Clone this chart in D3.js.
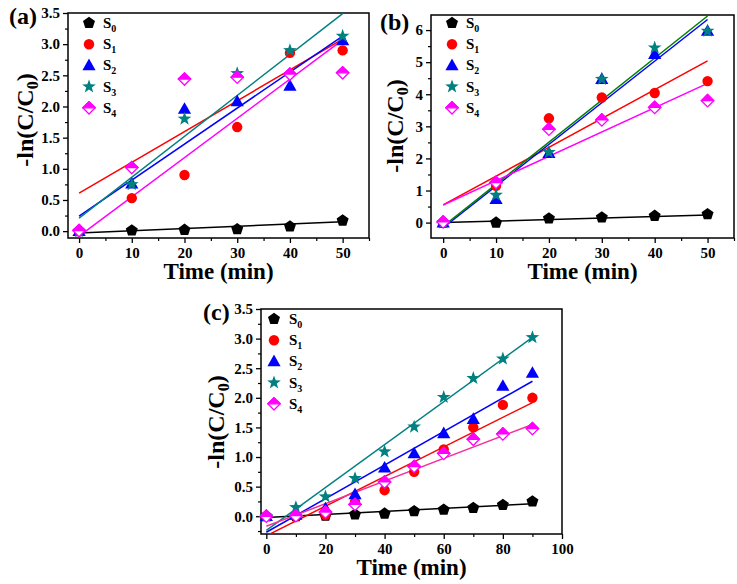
<!DOCTYPE html>
<html><head><meta charset="utf-8">
<script src="https://cdn.jsdelivr.net/npm/d3@7"></script>
<style>
body{margin:0;background:#fff}
svg{display:block}
text{font-family:'Liberation Serif','Times New Roman',serif;font-weight:bold;fill:#000}
</style>
</head><body>
<svg id="chart" width="737" height="584"></svg>
<script>
// ---------- data ----------
const seriesNames = ["S0","S1","S2","S3","S4"];
const markerColors = ["#000000","#ff0000","#0000ff","#008080","#ff00ff"];

// panel (a)
const timeA = [0,10,20,30,40,50];
const aS0 = [0.00,0.01,0.02,0.03,0.075,0.17];
const aS1 = [0.00,0.53,0.90,1.67,2.86,2.90];
const aS2 = [0.00,0.76,1.96,2.08,2.33,3.06];
const aS3 = [0.00,0.75,1.80,2.53,2.90,3.13];
const aS4 = [0.01,1.02,2.44,2.47,2.52,2.54];
const aFitX = [0,50];
const aFitStart = [-0.03,0.61,0.24,0.21,-0.08];
const aFitEnd   = [0.15,3.08,3.13,3.49,3.07];
const aXTicks = [0,10,20,30,40,50];
const aYTicks = [0.0,0.5,1.0,1.5,2.0,2.5,3.0,3.5];

// panel (b)
const timeB = [0,10,20,30,40,50];
const bS0 = [0.00,0.00,0.13,0.16,0.21,0.26];
const bS1 = [0.00,1.15,3.25,3.90,4.04,4.41];
const bS2 = [0.00,0.73,2.16,4.47,5.25,5.97];
const bS3 = [0.00,0.86,2.19,4.47,5.45,5.97];
const bS4 = [0.02,1.25,2.91,3.20,3.59,3.80];
const bFitX = [0,50];
const bFitStart = [0.00,0.55,-0.16,-0.12,0.55];
const bFitEnd   = [0.24,5.04,6.33,6.44,4.34];
const bXTicks = [0,10,20,30,40,50];
const bYTicks = [0,1,2,3,4,5,6];

// panel (c)
const timeC = [0,10,20,30,40,50,60,70,80,90];
const cS0 = [0.00,0.00,0.01,0.03,0.045,0.085,0.11,0.14,0.19,0.25];
const cS1 = [0.00,0.00,0.02,0.24,0.44,0.75,1.13,1.50,1.88,2.00];
const cS2 = [0.00,0.02,0.13,0.37,0.82,1.06,1.40,1.64,2.20,2.42];
const cS3 = [0.00,0.15,0.33,0.64,1.09,1.51,2.01,2.33,2.66,3.02];
const cS4 = [0.00,0.01,0.07,0.20,0.58,0.84,1.06,1.30,1.39,1.48];
const cFitX = [0,90];
const cFitStart = [-0.02,-0.33,-0.27,-0.24,-0.17];
const cFitEnd   = [0.21,1.92,2.28,3.02,1.55];
const cXTicks = [0,20,40,60,80,100];
const cYTicks = [0.0,0.5,1.0,1.5,2.0,2.5,3.0,3.5];

// ---------- layout / style ----------
const panels = [
  {id:"a", label:"(a)", x:timeA, ys:[aS0,aS1,aS2,aS3,aS4], fitX:aFitX, fitS:aFitStart, fitE:aFitEnd,
   xDom:[-2.1,55], yDom:[-0.11,3.5], L:68, R:369, T:13, B:238,
   xTicks:aXTicks, xMinorStep:5, yTicks:aYTicks, yMinorStep:0.25, yFmt:d3.format(".1f"),
   lineColors:["#000000","#ff0000","#0000ff","#008080","#ff00ff"],
   labelPos:[9,24], yTitle:[33,120], legend:[89,23,103]},
  {id:"b", label:"(b)", x:timeB, ys:[bS0,bS1,bS2,bS3,bS4], fitX:bFitX, fitS:bFitStart, fitE:bFitEnd,
   xDom:[-2.3,55], yDom:[-0.48,6.47], L:431, R:734, T:15, B:238,
   xTicks:bXTicks, xMinorStep:5, yTicks:bYTicks, yMinorStep:0.5, yFmt:d3.format("d"),
   lineColors:["#000000","#ff0000","#0000ff","#008000","#ff00ff"],
   labelPos:[380,30], yTitle:[403,126], legend:[452,23,466]},
  {id:"c", label:"(c)", x:timeC, ys:[cS0,cS1,cS2,cS3,cS4], fitX:cFitX, fitS:cFitStart, fitE:cFitEnd,
   xDom:[-1.8,100], yDom:[-0.3,3.5], L:261, R:562, T:309, B:534,
   xTicks:cXTicks, xMinorStep:10, yTicks:cYTicks, yMinorStep:0.25, yFmt:d3.format(".1f"),
   lineColors:["#000000","#ff0000","#0000ff","#008080","#f5309a"],
   labelPos:[203,320], yTitle:[224,422], legend:[274,319,289]}
];

const svg = d3.select("#chart");

// marker shapes
function pentagon(r){ const p=[]; for(let k=0;k<5;k++){const a=-Math.PI/2+k*2*Math.PI/5; p.push([r*Math.cos(a),r*Math.sin(a)]);} return "M"+p.map(d=>d.join(",")).join("L")+"Z"; }
function star(ro,ri){ const p=[]; for(let k=0;k<10;k++){const r=k%2?ri:ro; const a=-Math.PI/2+k*Math.PI/5; p.push([r*Math.cos(a),r*Math.sin(a)]);} return "M"+p.map(d=>d.join(",")).join("L")+"Z"; }
const circlePath = d3.symbol(d3.symbolCircle, Math.PI*5.2*5.2)();
const triPath = "M0,-6.8L6.6,4.8L-6.6,4.8Z";
const pentPath = pentagon(6.3);
const starPath = star(7.2,2.9);
const diaFull = "M0,-6.2L6.2,0L0,6.2L-6.2,0Z";
const diaTop = "M0,-6.2L6.2,0L-6.2,0Z";

function drawMarker(g, i, cx, cy){
  const t = `translate(${cx},${cy})`;
  const c = markerColors[i];
  if(i===0) g.append("path").attr("d",pentPath).attr("transform",t).attr("fill",c);
  else if(i===1) g.append("path").attr("d",circlePath).attr("transform",t).attr("fill",c);
  else if(i===2) g.append("path").attr("d",triPath).attr("transform",t).attr("fill",c);
  else if(i===3) g.append("path").attr("d",starPath).attr("transform",t).attr("fill",c);
  else {
    g.append("path").attr("d",diaFull).attr("transform",t).attr("fill","#fff").attr("stroke",c).attr("stroke-width",1.3);
    g.append("path").attr("d",diaTop).attr("transform",t).attr("fill",c).attr("stroke",c).attr("stroke-width",1.3).attr("stroke-linejoin","round");
  }
}

panels.forEach(p=>{
  const x = d3.scaleLinear().domain(p.xDom).range([p.L,p.R]);
  const y = d3.scaleLinear().domain(p.yDom).range([p.B,p.T]);
  const g = svg.append("g");

  // clip
  g.append("clipPath").attr("id","clip"+p.id).append("rect")
    .attr("x",p.L).attr("y",p.T).attr("width",p.R-p.L).attr("height",p.B-p.T);

  // axes: major & minor ticks
  const xMinor = d3.range(p.xTicks[0], p.xDom[1]+1e-9, p.xMinorStep).filter(v=>!p.xTicks.includes(v) && v>=p.xDom[0]);
  const yMinor = d3.range(Math.ceil(p.yDom[0]/p.yMinorStep)*p.yMinorStep, p.yDom[1]+1e-9, p.yMinorStep)
      .filter(v=>!p.yTicks.some(t=>Math.abs(t-v)<1e-6));

  const gx = g.append("g").attr("transform",`translate(0,${p.B})`)
    .call(d3.axisBottom(x).tickValues(p.xTicks).tickSize(5).tickPadding(4).tickFormat(d3.format("d")));
  gx.select(".domain").remove();
  gx.selectAll("text").attr("font-size",15).attr("font-family","'Liberation Serif','Times New Roman',serif").attr("font-weight","bold").attr("fill","#000");
  gx.selectAll("line").attr("stroke-width",1.3);
  const gxm = g.append("g").attr("transform",`translate(0,${p.B})`)
    .call(d3.axisBottom(x).tickValues(xMinor).tickSize(3).tickFormat(""));
  gxm.select(".domain").remove();
  gxm.selectAll("line").attr("stroke-width",1.2);

  const gy = g.append("g").attr("transform",`translate(${p.L},0)`)
    .call(d3.axisLeft(y).tickValues(p.yTicks).tickSize(5).tickPadding(3).tickFormat(p.yFmt));
  gy.select(".domain").remove();
  gy.selectAll("text").attr("font-size",15).attr("font-family","'Liberation Serif','Times New Roman',serif").attr("font-weight","bold").attr("fill","#000");
  gy.selectAll("line").attr("stroke-width",1.3);
  const gym = g.append("g").attr("transform",`translate(${p.L},0)`)
    .call(d3.axisLeft(y).tickValues(yMinor).tickSize(3).tickFormat(""));
  gym.select(".domain").remove();
  gym.selectAll("line").attr("stroke-width",1.2);

  // frame
  g.append("rect").attr("x",p.L).attr("y",p.T).attr("width",p.R-p.L).attr("height",p.B-p.T)
    .attr("fill","none").attr("stroke","#000").attr("stroke-width",1.5);

  // fit lines
  const lg = g.append("g").attr("clip-path",`url(#clip${p.id})`);
  const line = d3.line().x(d=>x(d[0])).y(d=>y(d[1]));
  p.fitS.forEach((s,i)=>{
    lg.append("path").attr("d",line([[p.fitX[0],s],[p.fitX[1],p.fitE[i]]]))
      .attr("stroke",p.lineColors[i]).attr("stroke-width",1.5).attr("fill","none");
  });

  // markers
  const mg = g.append("g");
  p.ys.forEach((vals,i)=>{
    vals.forEach((v,j)=>drawMarker(mg,i,x(p.x[j]),y(v)));
  });

  // legend
  seriesNames.forEach((nm,i)=>{
    const ly = p.legend[1] + i*21.2;
    drawMarker(g,i,p.legend[0],ly);
    const t = g.append("text").attr("x",p.legend[2]).attr("y",ly+5).attr("font-size",15);
    t.append("tspan").text(nm[0]);
    t.append("tspan").text(nm.slice(1)).attr("font-size",10).attr("dy",4);
  });

  // axis titles
  g.append("text").attr("x",(p.L+p.R)/2).attr("y",p.B+41).attr("text-anchor","middle")
    .attr("font-size",23).text("Time (min)");
  const yt = g.append("text").attr("transform",`translate(${p.yTitle[0]},${p.yTitle[1]}) rotate(-90)`)
    .attr("text-anchor","middle").attr("font-size",24);
  yt.append("tspan").text("-ln(C/C");
  yt.append("tspan").text("0").attr("font-size",16).attr("dy",5);
  yt.append("tspan").text(")").attr("dy",-5);

  // panel label
  g.append("text").attr("x",p.labelPos[0]).attr("y",p.labelPos[1]).attr("font-size",24).text(p.label);
});
</script>
</body></html>
